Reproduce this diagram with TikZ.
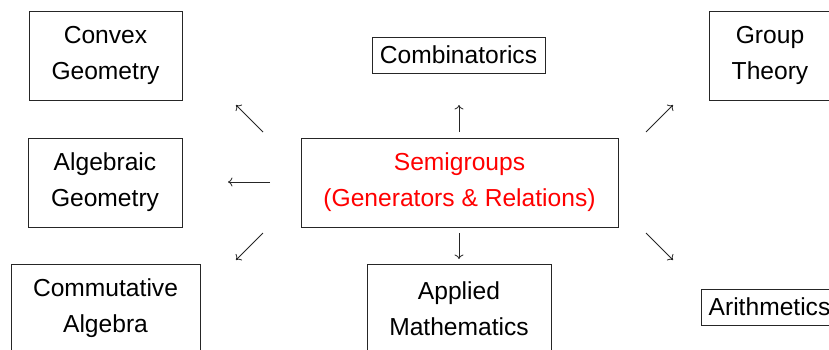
\documentclass[tikz,border=0pt]{standalone}
\usepackage{fontspec}
\setmainfont{Liberation Sans}
\usetikzlibrary{arrows.meta}
\tikzset{
  box/.style={draw=black!85, line width=0.9pt, inner sep=0pt, align=center,
    font=\fontsize{24.6}{36}\selectfont},
  arr/.style={draw=black!85, line width=0.8pt, -{To[length=4.5pt,width=9pt]}}
}
\begin{document}
\begin{tikzpicture}[x=1pt,y=-1pt]
\useasboundingbox (0,0) rectangle (829,349);
\clip (0,0) rectangle (829,349);
% boxes
\node[box, minimum width=153pt, minimum height=89pt] (conv) at (105.5,55.5) {Convex\\Geometry};
\node[box, minimum width=173pt, minimum height=36pt] (comb) at (458.5,55) {Combinatorics};
\node[box, minimum width=122pt, minimum height=89pt] (group) at (770,55.5) {Group\\Theory};
\node[box, minimum width=154pt, minimum height=89pt] (alg) at (105,182.5) {Algebraic\\Geometry};
\node[box, minimum width=317pt, minimum height=89pt, text=red] (semi) at (459.5,182.5) {Semigroups\\(Generators \& Relations)};
\node[box, minimum width=189pt, minimum height=89pt] (comm) at (105.5,308.5) {Commutative\\Algebra};
\node[box, minimum width=184pt, minimum height=89pt] (appl) at (459,308.5) {Applied\\Mathematics};
\node[box, minimum width=137pt, minimum height=36pt] (arith) at (769.5,307) {Arithmetics};
% arrow end points
\coordinate (nwS) at (263,132); \coordinate (nwE) at (236,105);
\coordinate (upS) at (459,132); \coordinate (upE) at (459,105);
\coordinate (neS) at (646,132); \coordinate (neE) at (673,105);
\coordinate (lS) at (270,182); \coordinate (lE) at (228,182);
\coordinate (swS) at (263,233); \coordinate (swE) at (236,260);
\coordinate (dnS) at (459,233); \coordinate (dnE) at (459,259);
\coordinate (seS) at (646,233); \coordinate (seE) at (673,260);
\draw[arr] (nwS) -- (nwE);
\draw[arr] (upS) -- (upE);
\draw[arr] (neS) -- (neE);
\draw[arr] (lS) -- (lE);
\draw[arr] (swS) -- (swE);
\draw[arr] (dnS) -- (dnE);
\draw[arr] (seS) -- (seE);
\end{tikzpicture}
\end{document}
